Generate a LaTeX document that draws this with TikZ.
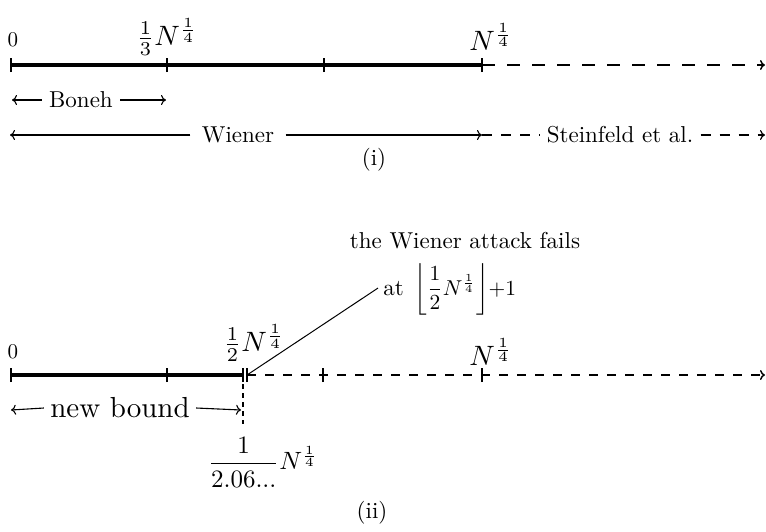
\documentclass[tikz,border=0pt]{standalone}
\usepackage{amsmath}
\usetikzlibrary{arrows.meta}
\tikzset{
  axisline/.style={line width=4pt},
  tickmark/.style={line width=1.3pt},
  dashA/.style={line width=1.5pt, dash pattern=on 13pt off 12pt},
  dashB/.style={line width=1.2pt, dash pattern=on 10pt off 9pt},
  dashC/.style={line width=1.4pt, dash pattern=on 9pt off 9pt},
  tipped/.style={-{To[length=5pt,width=10pt]}},
  arr/.style={line width=1.1pt, tipped},
  txt/.style={font=\fontsize{10}{12}\selectfont, inner sep=0pt, scale=2.3},
  big/.style={font=\fontsize{10}{12}\selectfont, inner sep=0pt, scale=2.8},
  zero/.style={font=\fontsize{10}{12}\selectfont, inner sep=0pt, scale=2.1},
  huge/.style={font=\fontsize{10}{12}\selectfont, inner sep=0pt, scale=2.9},
  fracl/.style={font=\fontsize{10}{12}\selectfont, inner sep=0pt, scale=2.5},
  floorl/.style={font=\fontsize{10}{12}\selectfont, inner sep=0pt, scale=2.15},
}
\begin{document}
\begin{tikzpicture}[x=1pt,y=-1pt]
\useasboundingbox (0,0) rectangle (766,531);
% ---------- (i) ----------
\coordinate (a0) at (11,65);
\coordinate (a1) at (167,65);
\coordinate (a2) at (324,65);
\coordinate (a3) at (482,65);
\coordinate (aend) at (765,65);
\draw[axisline] (a0) -- (a3);
\foreach \p in {a0,a1,a2,a3}
  \draw[tickmark] ([yshift=-7pt]\p) -- ([yshift=7pt]\p);
\draw[dashA, tipped] (a3) -- (aend);
\node[zero] (z0) at (13,40) {$0$};
\node[big] (third) at (167,37) {$\frac13N^{\frac14}$};
\node[big] (na) at (491,37) {$N^{\frac14}$};
% Boneh
\coordinate (bL) at (12,100);
\coordinate (bR) at (166,100);
\node[txt, inner xsep=3pt] (boneh) at (81,100) {Boneh};
\draw[arr] (boneh.west) -- (bL);
\draw[arr] (boneh.east) -- (bR);
% Wiener
\coordinate (wL) at (10,135);
\coordinate (wR) at (482,135);
\coordinate (wE) at (765,135);
\node[txt, inner xsep=4.8pt] (wiener) at (238,135) {Wiener};
\draw[arr] (wiener.west) -- (wL);
\draw[arr] (wiener.east) -- (wR);
\node[txt, inner xsep=3pt] (stein) at (620,135) {Steinfeld et al.};
\draw[dashB] (wR) -- (stein.west);
\draw[dashB, tipped] (stein.east) -- (wE);
\node[txt] (capi) at (374,160) {(i)};
% ---------- (ii) ----------
\coordinate (c0) at (11,375);
\coordinate (c1) at (167,375);
\coordinate (c2) at (243,375);
\coordinate (c2b) at (247,375);
\coordinate (c3) at (323,375);
\coordinate (c4) at (482,375);
\coordinate (cend) at (765,375);
\draw[axisline] (c0) -- (c2);
\draw[dashC, tipped] (c2b) -- (cend);
\foreach \p in {c0,c1,c2,c2b,c3,c4}
  \draw[tickmark] ([yshift=-7pt]\p) -- ([yshift=7pt]\p);
\node[zero] (z1) at (13,352) {$0$};
\node[big] (half) at (254,343) {$\frac12N^{\frac14}$};
\node[big] (nb) at (491,352) {$N^{\frac14}$};
\node[txt, anchor=base] (fails) at (465,248) {the Wiener attack fails};
\node[txt, anchor=base west] (at) at (383,295) {at};
\node[floorl, anchor=base west, text height=14pt] (floor) at (414,295) {$\left\lfloor\dfrac{1}{2}N^{\frac14}\right\rfloor\mkern-3mu{+}1$};
\draw[line width=1pt] (c2b) -- ([xshift=-5pt]at.west);
% new bound
\coordinate (nL) at (11,410);
\coordinate (nR) at (241,410);
\node[huge, inner xsep=2pt] (nb2) at (120,408) {new bound};
\draw[arr] (nb2.west) -- (nL);
\draw[arr] (nb2.east) -- (nR);
\coordinate (vd) at (243,424);
\draw[line width=1.2pt, dash pattern=on 5pt off 4pt] (c2) -- (vd);
\node[fracl] (frac) at (263,462) {$\dfrac{1}{2.06...}N^{\frac14}$};
\node[txt] (capii) at (372,513) {(ii)};
\end{tikzpicture}
\end{document}
